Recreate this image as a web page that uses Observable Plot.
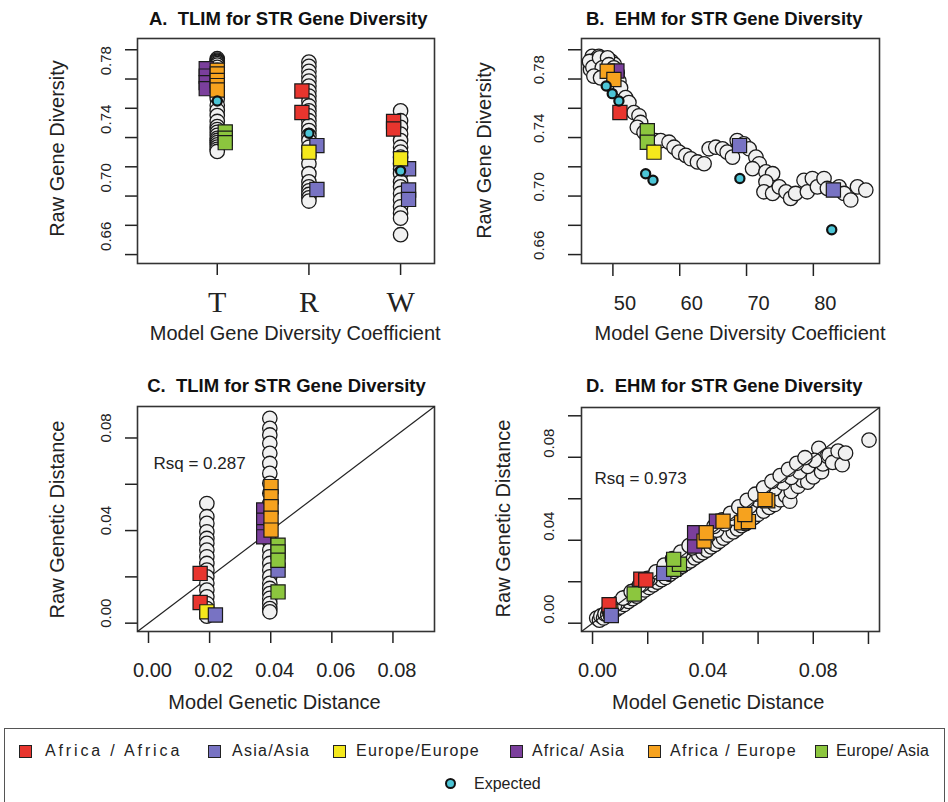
<!DOCTYPE html>
<html><head><meta charset="utf-8">
<script src="https://cdn.jsdelivr.net/npm/d3@7"></script>
<script src="https://cdn.jsdelivr.net/npm/@observablehq/plot@0.6"></script>
<style>
body{margin:0;background:#fff;}
#wrap{position:relative;width:948px;height:802px;overflow:hidden;background:#fff;font-family:"Liberation Sans",Arial,sans-serif;color:#222;}
svg text{white-space:pre;}
#legend{position:absolute;left:4px;top:728px;width:941px;height:90px;border:1.5px solid #555;box-sizing:border-box;}
.li{position:absolute;font-size:16px;white-space:pre;line-height:18px;color:#222;}
.sw{position:absolute;width:11px;height:11px;border:1.2px solid #222;}
.ex{position:absolute;width:7px;height:7px;border:2.5px solid #111;border-radius:50%;}
</style></head><body><div id="wrap"><div id="legend"></div></div>
<script>
// ---------- shared ----------
const groupKeys = ["Africa/Africa","Asia/Asia","Europe/Europe","Africa/Asia","Africa/Europe","Europe/Asia"];
const legendLabels = ["Africa / Africa","Asia/Asia","Europe/Europe","Africa/ Asia","Africa / Europe","Europe/ Asia"];
const groupColors = ["#e8352e","#7873c3","#f4e81c","#7b3f9c","#f6a21e","#8cc63e"];
const expectedLabel = "Expected";
const expectedColor = "#4cc5d6";
const titles = ["A.  TLIM for STR Gene Diversity","B.  EHM for STR Gene Diversity","C.  TLIM for STR Gene Diversity","D.  EHM for STR Gene Diversity"];
const xTitles = ["Model Gene Diversity Coefficient","Model Gene Diversity Coefficient","Model Genetic Distance","Model Genetic Distance"];
const yTitles = ["Raw Gene Diversity","Raw Gene Diversity","Raw Genetic Distance","Raw Genetic Distance"];
const rsqValues = ["0.287","0.973"];

// ---------- panel A (TLIM, gene diversity) ----------
const tlimCategories = ["T","R","W"];
const aCircleT = [0.7739,0.7730,0.7722,0.7715,0.7706,0.7695,0.768,0.766,0.764,0.761,0.758,0.755,0.752,0.749,0.7465,0.742,0.7385,0.735,0.731,0.7275,0.7255,0.7235,0.7215,0.7195,0.718,0.7165,0.715,0.7135,0.712,0.7105];
const aCircleR = [0.7716,0.7687,0.7653,0.7619,0.7586,0.7552,0.7518,0.7484,0.745,0.7416,0.7382,0.7349,0.7315,0.7281,0.7247,0.7213,0.7179,0.7134,0.7078,0.7021,0.6953,0.6897,0.6863,0.6836,0.6811,0.6788,0.6766];
const aCircleW = [0.7382,0.7315,0.727,0.7224,0.7179,0.7134,0.71,0.7066,0.7021,0.6985,0.6953,0.6897,0.6863,0.6818,0.6773,0.6727,0.6683,0.6649,0.6536];
const aSquares = [
  ["Africa/Asia","T",0.7671],["Africa/Asia","T",0.762],["Africa/Asia","T",0.7575],["Africa/Asia","T",0.7534],
  ["Africa/Europe","T",0.766],["Africa/Europe","T",0.7635],["Africa/Europe","T",0.759],["Africa/Europe","T",0.7555],["Africa/Europe","T",0.7525],
  ["Europe/Asia","T",0.7238],["Europe/Asia","T",0.7195],["Europe/Asia","T",0.7165],
  ["Africa/Africa","R",0.7518],["Africa/Africa","R",0.7371],
  ["Europe/Europe","R",0.710],
  ["Asia/Asia","R",0.7145],["Asia/Asia","R",0.6845],
  ["Africa/Africa","W",0.731],["Africa/Africa","W",0.7258],
  ["Europe/Europe","W",0.7055],
  ["Asia/Asia","W",0.6987],["Asia/Asia","W",0.6841],["Asia/Asia","W",0.6777]
];
const aExpected = [["T",0.745],["R",0.7229],["W",0.6972]];
const geneDivTicks = [0.64,0.66,0.68,0.70,0.72,0.74,0.76,0.78];
const geneDivLabelTicks = [0.66,0.70,0.74,0.78];

// ---------- panel B (EHM, gene diversity) ----------
const bCircles = [
  [46.9,0.7755],[47.4,0.7732],[47.9,0.7755],[47.15,0.7698],[48.15,0.771],[48.9,0.7732],[46.65,0.7665],[47.65,0.7653],
  [46.5,0.772],[47.0,0.768],[48.5,0.765],[49.8,0.772],[49.5,0.763],[50.2,0.770],[48.0,0.7745],[49.2,0.7745],
  [48.4,0.7676],[49.4,0.7698],[50.15,0.7676],[47.15,0.762],[48.15,0.7608],[50.65,0.7642],[50.9,0.7586],[51.15,0.754],
  [51.9,0.7473],[52.4,0.7439],[53.15,0.7371],[53.9,0.7349],[54.15,0.7303],[53.65,0.727],[54.65,0.7236],[55.15,0.7202],
  [56.4,0.7179],[57.15,0.7179],[58.4,0.7168],[59.15,0.7134],[59.9,0.71],[60.9,0.7078],[61.65,0.7055],[62.65,0.7033],
  [63.65,0.7021],[64.4,0.7123],[65.4,0.7134],[66.4,0.7123],[67.1,0.71],[67.9,0.7066],[68.6,0.7179],[69.6,0.7157],
  [70.4,0.7123],[71.4,0.7066],[71.9,0.7021],[70.9,0.6987],[72.9,0.6965],[73.9,0.6953],[72.9,0.6897],[72.6,0.6829],
  [73.9,0.6818],[74.9,0.6863],[75.9,0.6829],[76.6,0.6784],[77.35,0.6818],[78.6,0.6908],[79.1,0.6829],[79.85,0.692],
  [80.6,0.6863],[81.6,0.692],[82.1,0.6852],[83.85,0.6863],[84.6,0.6818],[85.6,0.6773],[86.6,0.6863],[87.85,0.6841]
];
const bSquares = [
  ["Africa/Asia",50.6,0.7655],
  ["Africa/Europe",49.15,0.7653],["Africa/Europe",50.15,0.7597],
  ["Africa/Africa",51.05,0.7371],
  ["Europe/Asia",55.15,0.7247],["Europe/Asia",55.15,0.7168],
  ["Europe/Europe",56.15,0.710],
  ["Asia/Asia",68.95,0.7145],["Asia/Asia",83.0,0.6841]
];
const bExpected = [[49.0,0.7552],[49.9,0.750],[50.9,0.745],[54.9,0.6953],[56.0,0.6908],[69.0,0.692],[82.75,0.657]];
const bXTicks = [50,60,70,80];

// ---------- panel C (TLIM, genetic distance) ----------
const cModelWithin = 0.0191;
const cModelBetween = 0.0397;
const cRawWithin = [0.0517,0.046,0.0431,0.0395,0.0366,0.0345,0.0316,0.0287,0.0258,0.0229,0.020,0.0172,0.0143,0.0114,0.0085,0.0063,0.0042,0.003];
const cRawBetween = [0.0885,0.0842,0.0813,0.0777,0.0734,0.069,0.0647,0.0604,0.0561,0.0517,0.0474,0.0431,0.0388,0.0352,0.0316,0.0287,0.0258,0.0229,0.020,0.0172,0.015,0.0128,0.0107,0.0085,0.0063,0.0049];
const cSquares = [
  ["Africa/Africa",0.0169,0.0215],["Africa/Africa",0.0169,0.0089],
  ["Europe/Europe",0.0191,0.0049],
  ["Asia/Asia",0.0219,0.0035],
  ["Africa/Asia",0.0377,0.0489],["Africa/Asia",0.0377,0.0445],["Africa/Asia",0.0377,0.0395],["Africa/Asia",0.0377,0.0373],
  ["Africa/Europe",0.0401,0.059],["Africa/Europe",0.0401,0.0546],["Africa/Europe",0.0401,0.0503],["Africa/Europe",0.0401,0.0453],["Africa/Europe",0.0401,0.0402],
  ["Asia/Asia",0.0424,0.0229],
  ["Europe/Asia",0.0424,0.0337],["Europe/Asia",0.0424,0.0308],["Europe/Asia",0.0424,0.0272],["Europe/Asia",0.0424,0.0135]
];
const cTicks = [0,0.02,0.04,0.06,0.08];

// ---------- panel D (EHM, genetic distance) ----------
const dCircles = [
  [0.0015,0.0025],[0.0025,0.0015],[0.003,0.0035],[0.004,0.0025],[0.0045,0.0045],[0.0055,0.004],[0.006,0.006],[0.007,0.005],[0.0075,0.0072],[0.0085,0.0065],[0.009,0.0085],[0.010,0.0078],
  [0.0105,0.0098],[0.0115,0.009],[0.012,0.0112],[0.013,0.0105],[0.0135,0.0125],[0.0145,0.0118],[0.015,0.0142],[0.016,0.013],[0.0165,0.0158],[0.0175,0.0145],[0.018,0.0172],[0.019,0.016],[0.0195,0.0188],[0.0205,0.0172],
  [0.021,0.020],[0.022,0.0185],[0.0225,0.0215],[0.0235,0.0198],[0.024,0.0228],[0.025,0.021],[0.0255,0.0245],[0.0265,0.022],[0.027,0.026],[0.028,0.0235],[0.0285,0.0272],[0.0295,0.025],[0.030,0.0288],
  [0.031,0.0262],[0.0315,0.030],[0.0325,0.0275],[0.033,0.0318],[0.034,0.0288],[0.0345,0.0332],[0.0355,0.030],[0.036,0.0348],[0.037,0.0315],[0.0375,0.036],[0.0385,0.0328],[0.039,0.0375],[0.040,0.034],
  [0.0405,0.039],[0.0415,0.0352],[0.042,0.0405],[0.043,0.0368],[0.0435,0.042],[0.0445,0.038],[0.045,0.0435],[0.046,0.0395],[0.0465,0.045],[0.0475,0.041],[0.048,0.0462],[0.049,0.0425],[0.050,0.0478],
  [0.051,0.044],[0.0515,0.049],[0.0525,0.0455],[0.053,0.0505],[0.054,0.047],[0.0545,0.052],[0.0555,0.048],[0.056,0.0535],[0.057,0.0495],[0.0575,0.055],[0.0585,0.051],[0.059,0.0565],[0.060,0.0525],
  [0.061,0.058],[0.062,0.054],[0.063,0.0598],[0.064,0.0558],[0.065,0.0615],[0.066,0.0572],[0.067,0.063],[0.068,0.0595],[0.069,0.0655],[0.070,0.0615],[0.0715,0.0588],
  [0.071,0.067],[0.072,0.0635],[0.0735,0.0705],[0.074,0.0765],[0.0745,0.066],[0.076,0.069],[0.077,0.0725],[0.078,0.068],[0.0795,0.0745],[0.080,0.0705],[0.0815,0.0775],[0.082,0.0843],[0.083,0.073],[0.0835,0.0768],[0.085,0.0805],[0.0857,0.0811],[0.087,0.0775],[0.089,0.083],[0.0905,0.0764],[0.0917,0.082],[0.1002,0.0883],
  [0.006,0.0066],[0.009,0.0094],[0.012,0.0125],[0.015,0.0156],[0.018,0.0187],[0.021,0.0216],[0.024,0.0246],[0.027,0.0273],[0.030,0.0306],[0.033,0.0336],[0.036,0.0363],[0.039,0.0393],
  [0.042,0.0423],[0.045,0.0449],[0.048,0.0479],[0.051,0.0506],[0.054,0.0536],[0.057,0.0563],[0.060,0.0593],[0.063,0.0621],[0.066,0.0649],[0.069,0.0676],[0.072,0.0703],[0.075,0.0729],[0.078,0.0756],[0.0805,0.0785],
  [0.008,0.0088],[0.011,0.0121],[0.014,0.0152],[0.017,0.0184],[0.020,0.0216],[0.023,0.0248],[0.026,0.028],[0.029,0.0311],[0.032,0.0343],[0.035,0.0374],[0.038,0.0405],[0.041,0.0436],
  [0.044,0.0467],[0.047,0.0498],[0.050,0.053],[0.053,0.0561],[0.056,0.0592],[0.059,0.0622],[0.062,0.0653],[0.065,0.0684],[0.068,0.0712],[0.071,0.0742],[0.074,0.0771],[0.077,0.0798]
];
const dSquares = [
  ["Europe/Europe",0.0066,0.0058],
  ["Africa/Africa",0.006,0.0089],["Asia/Asia",0.0068,0.0037],
  ["Europe/Asia",0.0151,0.0141],
  ["Africa/Africa",0.0175,0.0212],["Africa/Africa",0.0193,0.0208],
  ["Asia/Asia",0.0258,0.024],
  ["Europe/Asia",0.0294,0.026],["Europe/Asia",0.0315,0.0284],["Europe/Asia",0.0294,0.0308],
  ["Africa/Asia",0.037,0.0372],["Africa/Asia",0.037,0.0436],["Africa/Asia",0.0449,0.0492],
  ["Africa/Europe",0.0404,0.0396],["Africa/Europe",0.0412,0.0436],["Africa/Europe",0.0473,0.0492],["Africa/Europe",0.054,0.0484],["Africa/Europe",0.0565,0.049],["Africa/Europe",0.0552,0.0524],["Africa/Europe",0.0635,0.059],["Africa/Europe",0.0625,0.0596]
];
const dTicks = [0,0.02,0.04,0.06,0.08,0.10];
const dLabelTicks = [0,0.04,0.08];

// ---------- styling / helpers ----------
const FONT = "Liberation Sans, Arial, sans-serif";
const fmt2 = d3.format(".2f");
const colorOf = Object.fromEntries(groupKeys.map((g, i) => [g, groupColors[i]]));
const circleStyle = {r: 7.2, fill: "#f1f1f1", stroke: "#1a1a1a", strokeWidth: 1.3};
const squareStyle = {r: 8, symbol: "square", stroke: "#1a1a1a", strokeWidth: 1.2};
const expectedStyle = {r: 4.6, fill: expectedColor, stroke: "#111", strokeWidth: 2.2};
const dodgeA = {"Africa/Asia": -11, "Africa/Europe": 0, "Europe/Asia": 8, "Africa/Africa": -7, "Europe/Europe": 0, "Asia/Asia": 8};

function axisMarks(o) {
  return [
    Plot.axisX({ticks: o.xTicks, tickSize: o.tickSize, tickFormat: () => "", label: null, strokeWidth: 1.5}),
    Plot.axisY({ticks: o.yTicks, tickSize: o.tickSize, tickFormat: () => "", label: null, strokeWidth: 1.5}),
    Plot.text(o.yLabelTicks, {y: d => d, text: d => fmt2(d), frameAnchor: "left", dx: o.yDx, dy: o.yDy, rotate: -90, fontSize: 15, textAnchor: "middle", lineAnchor: "middle", fill: "#222"}),
    Plot.frame({stroke: "#333", strokeWidth: 1.6})
  ];
}
function titleMarks(i, t) {
  return [
    Plot.text([titles[i]], {text: d => d, frameAnchor: "top-left", dx: t.tdx, dy: t.tdy, fontWeight: "bold", fontSize: 18.5, textAnchor: "middle", lineAnchor: "middle", fill: "#111"}),
    Plot.text([xTitles[i]], {text: d => d, frameAnchor: "bottom-left", dx: t.xdx, dy: t.xdy, fontSize: 20, textAnchor: "middle", lineAnchor: "middle", fill: "#222"}),
    Plot.text([yTitles[i]], {text: d => d, frameAnchor: "top-left", dx: t.ydx, dy: t.ydy, rotate: -90, fontSize: 20, textAnchor: "middle", lineAnchor: "middle", fill: "#222"})
  ];
}
// squares drawn per group (with a per-group horizontal dodge) for panel A
function dodgedSquares(rows, xOf, dodge) {
  return groupKeys.map(g => Plot.dot(rows.filter(r => r[0] === g), {
    x: xOf, y: r => r[2], fill: colorOf[g], dx: dodge[g], ...squareStyle
  }));
}
// squares drawn in data order for panels B-D
function orderedSquares(rows) {
  return Plot.dot(rows, {x: r => r[1], y: r => r[2], fill: r => colorOf[r[0]], ...squareStyle});
}
function place(svg, left, top) {
  svg.style.position = "absolute";
  svg.style.left = left + "px";
  svg.style.top = top + "px";
  svg.style.overflow = "visible";
  svg.style.background = "transparent";
  svg.style.fontFamily = FONT;
  svg.style.color = "#222";
  svg.style.maxWidth = "none";
  document.getElementById("wrap").appendChild(svg);
}
const catX = c => tlimCategories.indexOf(c) + 1;

// ---------- A ----------
const aCircles = [
  ...aCircleT.map(v => ["T", v]),
  ...aCircleR.map(v => ["R", v]),
  ...aCircleW.map(v => ["W", v])
];
const plotA = Plot.plot({
  width: 474, height: 350,
  marginLeft: 137, marginRight: 40, marginTop: 38, marginBottom: 87,
  x: {type: "linear", domain: [0.13, 3.37], axis: null},
  y: {domain: [0.6339, 0.7877], axis: null},
  color: {type: "identity"},
  marks: [
    ...axisMarks({xTicks: [1, 2, 3], yTicks: geneDivTicks, yLabelTicks: geneDivLabelTicks, tickSize: 12, yDx: -31, yDy: 11}),
    Plot.text(tlimCategories, {x: catX, text: d => d, frameAnchor: "bottom", dy: 39, fontFamily: "Liberation Serif, Times New Roman, serif", fontSize: 30, lineAnchor: "middle", fill: "#222"}),
    Plot.dot(aCircles, {x: d => catX(d[0]), y: d => d[1], ...circleStyle}),
    ...dodgedSquares(aSquares, r => catX(r[1]), dodgeA),
    Plot.dot(aExpected, {x: d => catX(d[0]), y: d => d[1], ...expectedStyle}),
    ...titleMarks(0, {tdx: 150.7, tdy: -19, xdx: 157.7, xdy: 70, ydx: -79.5, ydy: 110})
  ]
});
place(plotA, 0, 0);

// ---------- B ----------
const plotB = Plot.plot({
  width: 474, height: 350,
  marginLeft: 107, marginRight: 69, marginTop: 38, marginBottom: 87,
  x: {domain: [45.3, 89.9], axis: null},
  y: {domain: [0.6339, 0.7877], axis: null},
  color: {type: "identity"},
  marks: [
    ...axisMarks({xTicks: bXTicks, yTicks: geneDivTicks, yLabelTicks: geneDivLabelTicks, tickSize: 13, yDx: -42, yDy: 20}),
    Plot.text(bXTicks, {x: d => d, text: d => String(d), frameAnchor: "bottom", dx: 12, dy: 40, fontSize: 20, lineAnchor: "middle", fill: "#222"}),
    Plot.dot(bCircles, {x: d => d[0], y: d => d[1], ...circleStyle}),
    orderedSquares(bSquares),
    Plot.dot(bExpected, {x: d => d[0], y: d => d[1], ...expectedStyle}),
    ...titleMarks(1, {tdx: 142.7, tdy: -19, xdx: 158.5, xdy: 70, ydx: -96.8, ydy: 112})
  ]
});
place(plotB, 474, 0);

// ---------- C ----------
const cDomain = [-0.0036, 0.0936];
const cCircles = [
  ...cRawWithin.map(v => [cModelWithin, v]),
  ...cRawBetween.map(v => [cModelBetween, v])
];
const plotC = Plot.plot({
  width: 474, height: 370,
  marginLeft: 137, marginRight: 40, marginTop: 56, marginBottom: 89,
  x: {domain: cDomain, axis: null},
  y: {domain: cDomain, axis: null},
  color: {type: "identity"},
  marks: [
    ...axisMarks({xTicks: cTicks, yTicks: cTicks, yLabelTicks: [0, 0.04, 0.08], tickSize: 12, yDx: -31, yDy: -10}),
    Plot.text(cTicks, {x: d => d, text: d => fmt2(d), frameAnchor: "bottom", dx: 4, dy: 39.5, fontSize: 20, lineAnchor: "middle", fill: "#222"}),
    Plot.link([cDomain], {x1: d => d[0], y1: d => d[0], x2: d => d[1], y2: d => d[1], stroke: "#222", strokeWidth: 1.2}),
    Plot.dot(cCircles, {x: d => d[0], y: d => d[1], ...circleStyle}),
    orderedSquares(cSquares),
    Plot.text([rsqValues[0]], {text: d => `Rsq = ${d}`, frameAnchor: "top-left", dx: 16, dy: 57, fontSize: 17, textAnchor: "start", lineAnchor: "middle", fill: "#222"}),
    ...titleMarks(2, {tdx: 149, tdy: -20.5, xdx: 137, xdy: 71, ydx: -79.5, ydy: 113})
  ]
});
place(plotC, 0, 350);

// ---------- D ----------
const dDomain = [-0.004, 0.104];
const plotD = Plot.plot({
  width: 474, height: 370,
  marginLeft: 107, marginRight: 69, marginTop: 57, marginBottom: 89,
  x: {domain: dDomain, axis: null},
  y: {domain: dDomain, axis: null},
  color: {type: "identity"},
  marks: [
    ...axisMarks({xTicks: dTicks, yTicks: dTicks, yLabelTicks: dLabelTicks, tickSize: 13, yDx: -32, yDy: -14}),
    Plot.text(dLabelTicks, {x: d => d, text: d => fmt2(d), frameAnchor: "bottom", dx: 5, dy: 39.5, fontSize: 20, lineAnchor: "middle", fill: "#222"}),
    Plot.dot(dCircles, {x: d => d[0], y: d => d[1], ...circleStyle}),
    Plot.link([dDomain], {x1: d => d[0], y1: d => d[0], x2: d => d[1], y2: d => d[1], stroke: "#222", strokeWidth: 1.2}),
    orderedSquares(dSquares),
    Plot.text([rsqValues[1]], {text: d => `Rsq = ${d}`, frameAnchor: "top-left", dx: 13, dy: 71, fontSize: 17, textAnchor: "start", lineAnchor: "middle", fill: "#222"}),
    ...titleMarks(3, {tdx: 142.7, tdy: -21, xdx: 136.7, xdy: 71, ydx: -78.3, ydy: 111})
  ]
});
place(plotD, 474, 350);

// ---------- legend ----------
const wrap = document.getElementById("wrap");
const swatchX = [19, 208, 333, 510, 648, 815];
const labelX = [45, 232, 356, 532, 670, 836];
const labelW = [138, 78, 124, 94, 127, 94];
const ctx = document.createElement("canvas").getContext("2d");
ctx.font = "16px 'Liberation Sans'";
function addLabel(text, left, top, width) {
  const t = document.createElement("div");
  t.className = "li"; t.textContent = text;
  if (width) {
    const natural = ctx.measureText(text).width;
    t.style.letterSpacing = ((width - natural) / text.length).toFixed(2) + "px";
  }
  t.style.left = left + "px"; t.style.top = top + "px";
  wrap.appendChild(t);
}
groupKeys.forEach((g, i) => {
  const s = document.createElement("div");
  s.className = "sw";
  s.style.left = swatchX[i] + "px"; s.style.top = "745px"; s.style.background = groupColors[i];
  wrap.appendChild(s);
  addLabel(legendLabels[i], labelX[i], 742, labelW[i]);
});
const ex = document.createElement("div");
ex.className = "ex"; ex.style.left = "445px"; ex.style.top = "778px"; ex.style.background = expectedColor;
wrap.appendChild(ex);
addLabel(expectedLabel, 474, 775, null);
</script></body></html>
